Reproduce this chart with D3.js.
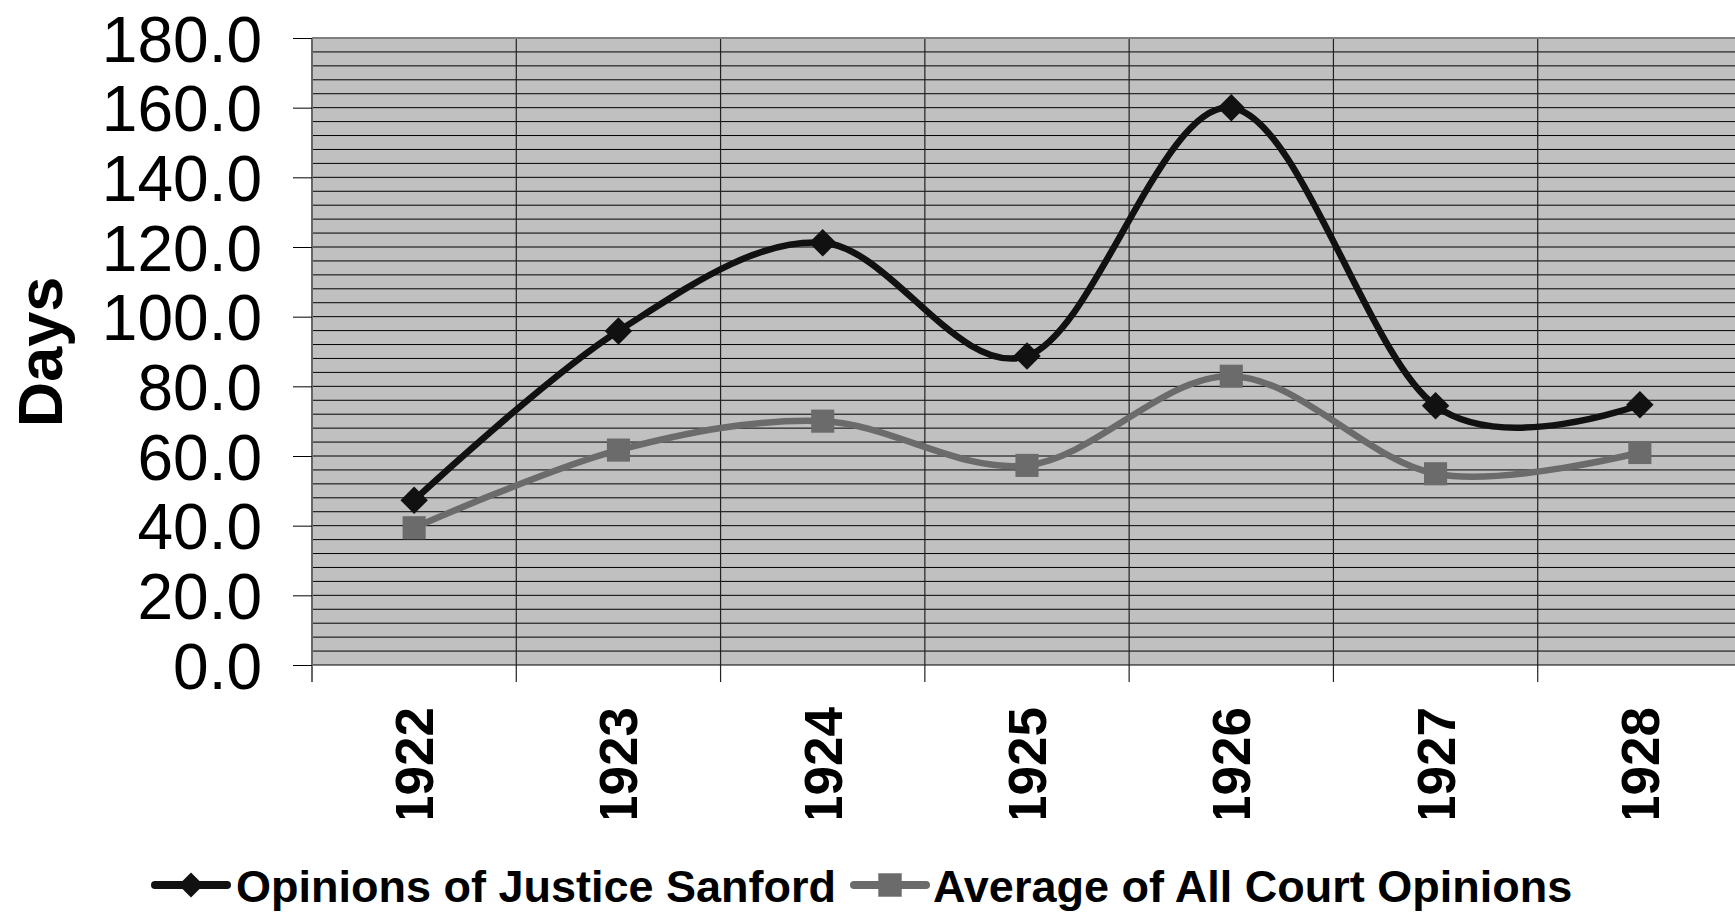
<!DOCTYPE html>
<meta charset="utf-8">
<script src="https://d3js.org/d3.v7.min.js"></script>
<style>
  body { margin: 0; background: #fff; }
  text { font-family: "Liberation Sans", Arial, sans-serif; }
</style>
<svg id="chart" width="1735" height="913"></svg>
<script>
  // data
  var years = ["1922", "1923", "1924", "1925", "1926", "1927", "1928"];
  var sanford = [47.3, 95.9, 121.2, 88.7, 160.0, 74.4, 74.7];
  var courtAvg = [39.4, 61.7, 70.0, 57.3, 82.9, 54.9, 61.0];
  var yTicks = [0, 20, 40, 60, 80, 100, 120, 140, 160, 180];
  var seriesNames = ["Opinions of Justice Sanford", "Average of All Court Opinions"];

  var svg = d3.select("svg");

  // plot area (note: "top" is taken by window.top)
  var plotL = 312, plotT = 38, plotR = 1742, plotB = 665;

  var x = d3.scaleBand()
    .domain(years)
    .range([plotL, plotR]);

  var y = d3.scaleLinear()
    .domain([0, 180])
    .range([plotB, plotT]);

  // background
  svg.append("rect")
    .attr("x", plotL)
    .attr("y", plotT)
    .attr("width", plotR - plotL)
    .attr("height", plotB - plotT)
    .attr("fill", "#c0c0c0");

  // minor horizontal gridlines every 4 days
  svg.append("g")
    .selectAll("line")
    .data(d3.range(0, 181, 4))
    .enter()
    .append("line")
    .attr("x1", plotL)
    .attr("x2", plotR)
    .attr("y1", function (d) { return y(d); })
    .attr("y2", function (d) { return y(d); })
    .attr("stroke", "#000")
    .attr("stroke-width", 1);

  // vertical gridlines at category boundaries (+ tick below)
  var bounds = years.map(function (d) { return x(d); }).concat([plotR]);
  svg.append("g")
    .selectAll("line")
    .data(bounds)
    .enter()
    .append("line")
    .attr("x1", function (d) { return d; })
    .attr("x2", function (d) { return d; })
    .attr("y1", plotT)
    .attr("y2", plotB + 17)
    .attr("stroke", function (d, i) { return i == 0 ? "#666" : "#222"; })
    .attr("stroke-width", function (d, i) { return i == 0 ? 2 : 1.2; });

  // top border
  svg.append("line")
    .attr("x1", plotL).attr("x2", plotR)
    .attr("y1", plotT).attr("y2", plotT)
    .attr("stroke", "#808080")
    .attr("stroke-width", 2);

  // y axis
  var yAxis = svg.append("g")
    .attr("transform", "translate(" + plotL + ",0)")
    .call(d3.axisLeft(y)
      .tickValues(yTicks)
      .tickSize(19)
      .tickPadding(31)
      .tickFormat(d3.format(".1f")));
  yAxis.select(".domain").remove();
  yAxis.selectAll("line").attr("stroke", "#000");
  yAxis.selectAll("text")
    .attr("fill", "#000")
    .style("font-size", "64px")
    .attr("dy", "0.36em");

  // x labels (clipped at bottom like the original)
  svg.append("clipPath")
    .attr("id", "xclip")
    .append("rect")
    .attr("x", 0).attr("y", 680)
    .attr("width", 1735).attr("height", 138);

  svg.append("g")
    .attr("clip-path", "url(#xclip)")
    .selectAll("text")
    .data(years)
    .enter()
    .append("text")
    .attr("transform", function (d) {
      return "translate(" + (x(d) + x.bandwidth() / 2 + 19) + ",707) rotate(-90)";
    })
    .attr("text-anchor", "end")
    .style("font-size", "53px")
    .style("font-weight", "bold")
    .text(function (d) { return d; });

  // y title
  svg.append("text")
    .attr("transform", "translate(62,352) rotate(-90)")
    .attr("text-anchor", "middle")
    .style("font-size", "63px")
    .style("font-weight", "bold")
    .text("Days");

  // lines
  var line = d3.line()
    .x(function (d, i) { return x(years[i]) + x.bandwidth() / 2; })
    .y(function (d) { return y(d); })
    .curve(d3.curveCatmullRom.alpha(0));

  var black = "#111", grey = "#6b6b6b";

  svg.append("path")
    .datum(courtAvg)
    .attr("d", line)
    .attr("fill", "none")
    .attr("stroke", grey)
    .attr("stroke-width", 6.5);

  svg.append("path")
    .datum(sanford)
    .attr("d", line)
    .attr("fill", "none")
    .attr("stroke", black)
    .attr("stroke-width", 6.5);

  var diamond = d3.symbol().type(d3.symbolDiamond2).size(480);
  var square = d3.symbol().type(d3.symbolSquare2).size(680);

  svg.append("g")
    .selectAll("path")
    .data(courtAvg)
    .enter()
    .append("path")
    .attr("d", square)
    .attr("transform", function (d, i) {
      return "translate(" + (x(years[i]) + x.bandwidth() / 2) + "," + y(d) + ")";
    })
    .attr("fill", grey);

  svg.append("g")
    .selectAll("path")
    .data(sanford)
    .enter()
    .append("path")
    .attr("d", diamond)
    .attr("transform", function (d, i) {
      return "translate(" + (x(years[i]) + x.bandwidth() / 2) + "," + y(d) + ")";
    })
    .attr("fill", black);

  // legend
  var legend = [
    { name: seriesNames[0], color: black, sym: d3.symbol().type(d3.symbolDiamond2).size(400), lx: 155, tx: 236 },
    { name: seriesNames[1], color: grey, sym: d3.symbol().type(d3.symbolSquare2).size(700), lx: 854, tx: 933 }
  ];
  var lg = svg.append("g").selectAll("g")
    .data(legend)
    .enter()
    .append("g");
  lg.append("line")
    .attr("x1", function (d) { return d.lx; })
    .attr("x2", function (d) { return d.lx + 72; })
    .attr("y1", 885).attr("y2", 885)
    .attr("stroke", function (d) { return d.color; })
    .attr("stroke-width", 8)
    .attr("stroke-linecap", "round");
  lg.append("path")
    .attr("d", function (d) { return d.sym(); })
    .attr("transform", function (d) { return "translate(" + (d.lx + 36) + ",885)"; })
    .attr("fill", function (d) { return d.color; });
  lg.append("text")
    .attr("x", function (d) { return d.tx; })
    .attr("y", 902)
    .style("font-size", "45px")
    .style("font-weight", "bold")
    .text(function (d) { return d.name; });
</script>
